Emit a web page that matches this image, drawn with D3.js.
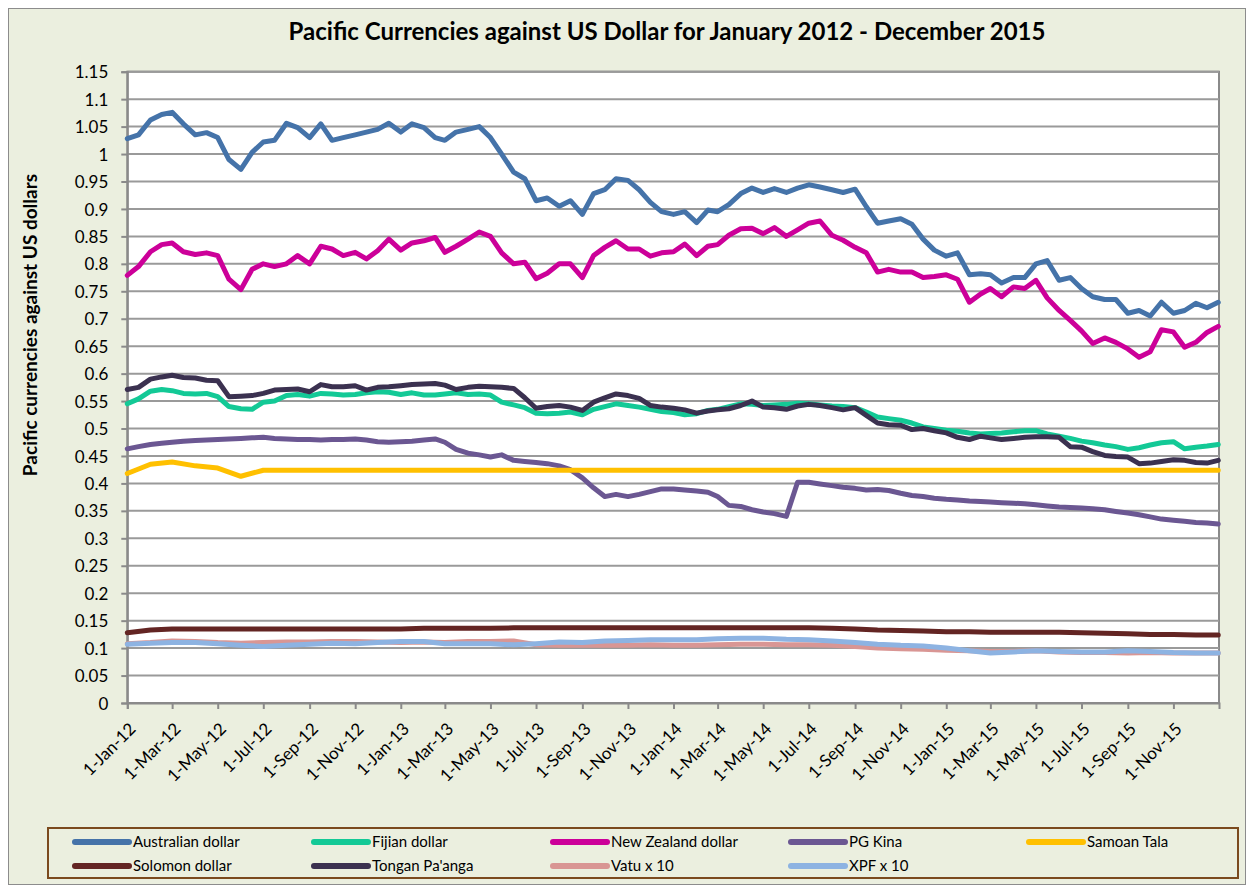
<!DOCTYPE html>
<html>
<head>
<meta charset="utf-8">
<script src="https://cdn.jsdelivr.net/npm/d3@7"></script>
<style>
body { margin: 0; background: #fff; }
text { font-family: Lato, "Open Sans", sans-serif; fill: #000; }
</style>
</head>
<body>
<div id="viz"></div>
<script>
//Width and height
var w = 1249;
var h = 886;

// semi-monthly values (1st and 16th of each month, plus 31-Dec-15)
var audValues = [
  1.028,1.035,1.062,1.072,1.076,1.055,1.035,1.039,1.03,0.99,0.972,1.003,1.022,1.025,1.056,1.048,1.03,1.055,1.025,1.03,1.035,1.04,1.045,1.056,
  1.04,1.055,1.048,1.03,1.025,1.04,1.045,1.05,1.03,1.0,0.967,0.955,0.915,0.92,0.905,0.915,0.89,0.928,0.935,0.955,0.952,0.935,0.912,0.895,
  0.89,0.895,0.875,0.898,0.895,0.908,0.928,0.938,0.93,0.937,0.93,0.938,0.944,0.94,0.935,0.93,0.936,0.904,0.874,0.878,0.882,0.872,0.845,0.825,
  0.814,0.82,0.78,0.782,0.78,0.765,0.775,0.775,0.8,0.806,0.77,0.775,0.755,0.74,0.735,0.735,0.71,0.715,0.705,0.73,0.71,0.715,0.728,0.72,
  0.73];
var fjdValues = [
  0.545,0.554,0.568,0.571,0.569,0.564,0.563,0.564,0.558,0.54,0.536,0.535,0.548,0.55,0.56,0.562,0.559,0.564,0.563,0.561,0.562,0.565,0.567,0.566,
  0.562,0.565,0.561,0.561,0.563,0.565,0.562,0.563,0.561,0.548,0.543,0.538,0.528,0.527,0.528,0.53,0.525,0.535,0.54,0.545,0.542,0.539,0.535,0.531,
  0.529,0.525,0.527,0.533,0.535,0.54,0.545,0.544,0.542,0.543,0.544,0.546,0.545,0.543,0.541,0.54,0.538,0.53,0.521,0.518,0.515,0.51,0.503,0.5,
  0.497,0.495,0.492,0.49,0.491,0.492,0.494,0.496,0.496,0.49,0.486,0.482,0.477,0.474,0.47,0.467,0.462,0.465,0.47,0.474,0.476,0.463,0.466,0.468,
  0.471];
var nzdValues = [
  0.779,0.795,0.822,0.835,0.838,0.822,0.817,0.82,0.815,0.772,0.753,0.79,0.8,0.795,0.8,0.815,0.8,0.832,0.827,0.815,0.821,0.809,0.824,0.845,
  0.825,0.838,0.842,0.848,0.821,0.832,0.845,0.858,0.85,0.82,0.8,0.803,0.773,0.783,0.8,0.8,0.775,0.815,0.83,0.842,0.827,0.827,0.814,0.82,
  0.822,0.836,0.815,0.832,0.835,0.852,0.864,0.865,0.855,0.866,0.85,0.862,0.874,0.878,0.852,0.843,0.83,0.82,0.785,0.79,0.785,0.785,0.775,0.777,
  0.78,0.772,0.73,0.745,0.755,0.74,0.758,0.755,0.77,0.738,0.715,0.697,0.678,0.655,0.665,0.657,0.645,0.63,0.64,0.68,0.676,0.648,0.657,0.675,
  0.686];
var pgkValues = [
  0.463,0.467,0.471,0.473,0.475,0.477,0.478,0.479,0.48,0.481,0.482,0.483,0.484,0.482,0.481,0.48,0.48,0.479,0.48,0.48,0.481,0.479,0.476,0.475,
  0.476,0.477,0.479,0.481,0.475,0.462,0.455,0.452,0.448,0.452,0.442,0.44,0.438,0.436,0.432,0.425,0.41,0.392,0.376,0.38,0.376,0.38,0.385,0.39,
  0.39,0.388,0.386,0.384,0.376,0.36,0.358,0.352,0.348,0.345,0.34,0.402,0.402,0.399,0.396,0.393,0.391,0.388,0.389,0.387,0.382,0.378,0.376,0.373,
  0.371,0.37,0.368,0.367,0.366,0.365,0.364,0.363,0.361,0.359,0.357,0.356,0.355,0.354,0.352,0.349,0.346,0.343,0.339,0.335,0.333,0.331,0.329,0.328,
  0.326];
var topValues = [
  0.571,0.575,0.59,0.594,0.597,0.593,0.592,0.588,0.587,0.558,0.559,0.56,0.564,0.57,0.571,0.572,0.567,0.58,0.576,0.576,0.578,0.57,0.575,0.576,
  0.578,0.58,0.581,0.582,0.579,0.571,0.575,0.577,0.576,0.575,0.573,0.556,0.537,0.54,0.542,0.539,0.533,0.548,0.556,0.563,0.56,0.555,0.542,0.539,
  0.537,0.534,0.528,0.532,0.534,0.536,0.542,0.55,0.539,0.538,0.535,0.541,0.544,0.542,0.538,0.534,0.538,0.524,0.51,0.507,0.506,0.498,0.5,0.496,
  0.492,0.484,0.48,0.486,0.483,0.48,0.482,0.484,0.485,0.485,0.484,0.467,0.466,0.458,0.451,0.449,0.448,0.436,0.437,0.44,0.443,0.442,0.438,0.437,
  0.442];

// monthly values (1st of each month, plus 31-Dec-15)
var wstValues = [
  0.418,0.435,0.439,0.432,0.428,0.413,0.424,0.424,0.424,0.424,0.424,0.424,
  0.424,0.424,0.424,0.424,0.424,0.424,0.424,0.424,0.424,0.424,0.424,0.424,
  0.424,0.424,0.424,0.424,0.424,0.424,0.424,0.424,0.424,0.424,0.424,0.424,
  0.424,0.424,0.424,0.424,0.424,0.424,0.424,0.424,0.424,0.424,0.424,0.424,
  0.424];
var sbdValues = [
  0.128,0.133,0.135,0.135,0.135,0.135,0.135,0.135,0.135,0.135,0.135,0.135,
  0.135,0.136,0.136,0.136,0.136,0.137,0.137,0.137,0.137,0.137,0.137,0.137,
  0.137,0.137,0.137,0.137,0.137,0.137,0.137,0.136,0.135,0.133,0.132,0.131,
  0.130,0.130,0.129,0.129,0.129,0.129,0.128,0.127,0.126,0.125,0.125,0.124,
  0.124];
var vuvValues = [
  0.108,0.11,0.113,0.112,0.11,0.109,0.11,0.111,0.111,0.112,0.112,0.111,
  0.11,0.111,0.11,0.112,0.112,0.113,0.106,0.105,0.105,0.105,0.105,0.106,
  0.105,0.105,0.106,0.107,0.107,0.106,0.106,0.105,0.103,0.1,0.099,0.098,
  0.096,0.095,0.094,0.094,0.095,0.093,0.092,0.092,0.091,0.092,0.091,0.091,
  0.091];
var xpfValues = [
  0.107,0.109,0.11,0.11,0.108,0.105,0.103,0.105,0.107,0.109,0.108,0.11,
  0.112,0.112,0.108,0.108,0.108,0.106,0.108,0.111,0.11,0.113,0.114,0.115,
  0.115,0.115,0.117,0.118,0.118,0.116,0.115,0.113,0.11,0.107,0.105,0.104,
  0.1,0.095,0.091,0.093,0.095,0.094,0.093,0.093,0.095,0.094,0.092,0.091,
  0.091];

var seriesNames = ["Australian dollar", "Fijian dollar", "New Zealand dollar", "PG Kina", "Samoan Tala",
                   "Solomon dollar", "Tongan Pa'anga", "Vatu x 10", "XPF x 10"];
var seriesColors = ["#4573a9", "#13c996", "#cc0099", "#6b5792", "#ffc000",
                    "#632523", "#3b3150", "#d99694", "#8db3e2"];
var yTicks = [0,0.05,0.1,0.15,0.2,0.25,0.3,0.35,0.4,0.45,0.5,0.55,0.6,0.65,0.7,0.75,0.8,0.85,0.9,0.95,1,1.05,1.1,1.15];

var start = new Date(Date.UTC(2012, 0, 1));
var end = new Date(Date.UTC(2016, 0, 1));
var lastDay = new Date(Date.UTC(2015, 11, 31));

var months = d3.utcMonth.range(start, end);
var halfMonths = [];
months.forEach(function(m) {
    halfMonths.push(m, new Date(Date.UTC(m.getUTCFullYear(), m.getUTCMonth(), 16)));
});
halfMonths.push(lastDay);
var monthDates = months.concat([lastDay]);
var xTicks = d3.utcMonth.every(2).range(start, end);

var seriesValues = [audValues, fjdValues, nzdValues, pgkValues, wstValues, sbdValues, topValues, vuvValues, xpfValues];
var seriesDates = [halfMonths, halfMonths, halfMonths, halfMonths, monthDates, monthDates, halfMonths, monthDates, monthDates];

var series = seriesNames.map(function(name, i) {
    return {
        name: name,
        color: seriesColors[i],
        points: seriesValues[i].map(function(v, j) { return { date: seriesDates[i][j], value: v }; })
    };
});

var plot = { left: 127.3, right: 1219, top: 71.7, bottom: 703 };

var x = d3.scaleUtc().domain([start, end]).range([plot.left, plot.right]);
var y = d3.scaleLinear().domain([0, 1.15]).range([plot.bottom, plot.top]);

//Create SVG element
var svg = d3.select("#viz")
            .append("svg")
            .attr("width", w)
            .attr("height", h);

// chart area
svg.append("rect")
    .attr("x", 8.5).attr("y", 8.5)
    .attr("width", 1237).attr("height", 876)
    .attr("fill", "#ebefdf")
    .attr("stroke", "#8c8c8c")
    .attr("stroke-width", 1);

// plot area
svg.append("rect")
    .attr("x", plot.left).attr("y", plot.top)
    .attr("width", plot.right - plot.left).attr("height", plot.bottom - plot.top)
    .attr("fill", "#fff")
    .attr("stroke", "#8a8a8a")
    .attr("stroke-width", 2);

// gridlines
svg.append("g").selectAll("line")
    .data(yTicks.slice(1))
    .enter().append("line")
    .attr("x1", plot.left).attr("x2", plot.right)
    .attr("y1", function(d) { return y(d); })
    .attr("y2", function(d) { return y(d); })
    .attr("stroke", "#9a9a9a")
    .attr("stroke-width", 2);

var yAxis = d3.axisLeft(y)
    .tickValues(yTicks)
    .tickSize(6)
    .tickPadding(13)
    .tickFormat(function(d) { return String(+d.toFixed(2)); });

var gy = svg.append("g")
    .attr("transform", "translate(" + plot.left + ",0)")
    .call(yAxis);
gy.selectAll("text").style("font-size", "17px").attr("dy", "0.36em");

var xAxis = d3.axisBottom(x)
    .tickValues(xTicks)
    .tickSize(6)
    .tickFormat(d3.utcFormat("%-d-%b-%y"));

var gx = svg.append("g")
    .attr("transform", "translate(0," + plot.bottom + ")")
    .call(xAxis);
gx.selectAll("text")
    .style("font-size", "17px")
    .attr("text-anchor", "end")
    .attr("dy", null)
    .attr("y", 0)
    .attr("transform", "translate(9,27) rotate(-45)");

svg.selectAll(".domain").attr("stroke", "#8a8a8a").attr("stroke-width", 2);
svg.selectAll(".tick line").attr("stroke", "#8a8a8a").attr("stroke-width", 2);

// series lines
var line = d3.line()
    .x(function(d) { return x(d.date); })
    .y(function(d) { return y(d.value); });

svg.append("g").selectAll("path")
    .data(series)
    .enter().append("path")
    .attr("d", function(d) { return line(d.points); })
    .attr("fill", "none")
    .attr("stroke", function(d) { return d.color; })
    .attr("stroke-width", 5)
    .attr("stroke-linejoin", "round")
    .attr("stroke-linecap", "round");

// title
svg.append("text")
    .attr("x", 667).attr("y", 40)
    .attr("text-anchor", "middle")
    .style("font-size", "24px")
    .style("font-weight", "bold")
    .text("Pacific Currencies against US Dollar for January 2012 - December 2015");

svg.append("text")
    .attr("transform", "translate(37,325) rotate(-90)")
    .attr("text-anchor", "middle")
    .style("font-size", "19px")
    .style("font-weight", "bold")
    .text("Pacific currencies against US dollars");

// legend
svg.append("rect")
    .attr("x", 48).attr("y", 828)
    .attr("width", 1190).attr("height", 50)
    .attr("fill", "none")
    .attr("stroke", "#7b4a1e")
    .attr("stroke-width", 2);

var legendCols = [75, 314, 553, 791, 1029];
var legendRows = [842, 866];

var items = svg.append("g").selectAll("g")
    .data(series)
    .enter().append("g")
    .attr("transform", function(d, i) {
        return "translate(" + legendCols[i % 5] + "," + legendRows[Math.floor(i / 5)] + ")";
    });

items.append("line")
    .attr("x1", 0).attr("x2", 54)
    .attr("stroke", function(d) { return d.color; })
    .attr("stroke-width", 6)
    .attr("stroke-linecap", "round");

items.append("text")
    .attr("x", 58).attr("dy", "0.35em")
    .style("font-size", "15px")
    .text(function(d) { return d.name; });
</script>
</body>
</html>
